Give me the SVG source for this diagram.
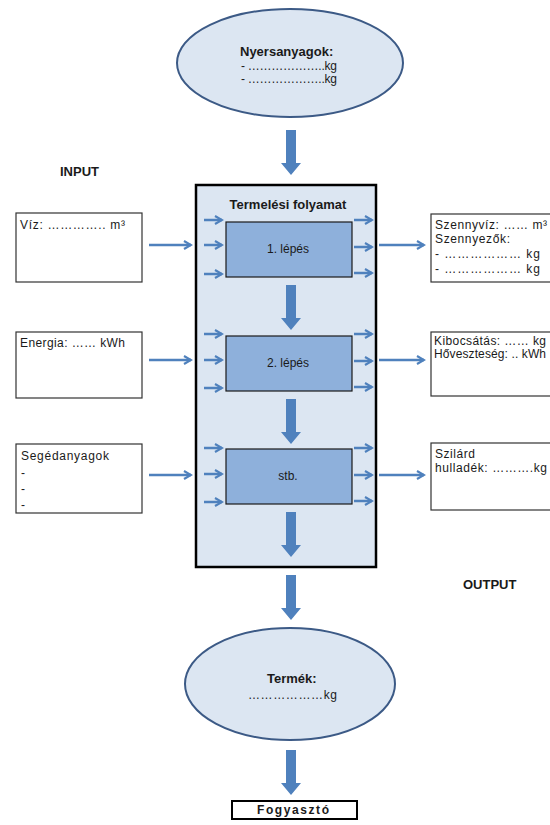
<svg xmlns="http://www.w3.org/2000/svg" width="550" height="825" viewBox="0 0 550 825">
  <defs>
    <style>
      text { font-family: "Liberation Sans", Arial, sans-serif; font-size: 12px; fill: #1a1a1a; }
      .b { font-weight: bold; font-size: 13px; }
      .c { text-anchor: middle; }
      .ell { fill: #dce6f2; stroke: #3c5a86; stroke-width: 2; }
      .box { fill: #ffffff; stroke: #333333; stroke-width: 1.2; }
      .step { fill: #8eb0db; stroke: #1a1a1a; stroke-width: 1.2; }
      .blk { fill: #4f81bd; }
      .ln { stroke: #4f81bd; stroke-width: 2.5; fill: none; marker-end: url(#head); }
    </style>
    <marker id="head" viewBox="0 0 10 10" refX="8" refY="5" markerWidth="4" markerHeight="4" orient="auto" markerUnits="strokeWidth">
      <path d="M1,1 L8,5 L1,9" fill="none" stroke="#4f81bd" stroke-width="2.2"/>
    </marker>
    <!-- block arrow pointing down, origin at top centre, 45 long -->
    <path id="down" d="M-5,0 H5 V33 H10 L0,45 L-10,33 H-5 Z"/>
  </defs>

  <!-- process frame -->
  <g id="process">
    <rect x="196" y="185" width="180" height="382" fill="#dce6f2" stroke="#000" stroke-width="2.5"/>
    <text class="b c" x="288" y="209">Termelési folyamat</text>
  </g>

  <g id="raw-materials">
    <ellipse class="ell" cx="290" cy="63" rx="113" ry="54"/>
    <text class="b" x="240" y="56">Nyersanyagok:</text>
    <text x="241" y="70" textLength="96" lengthAdjust="spacing">- ………………..kg</text>
    <text x="241" y="83" textLength="96" lengthAdjust="spacing">- ………………..kg</text>
  </g>

  <g id="step1">
    <rect class="step" x="226" y="222" width="126" height="55"/>
    <text class="c" x="288" y="253">1. lépés</text>
  </g>
  <g id="step2">
    <rect class="step" x="226" y="336" width="126" height="55"/>
    <text class="c" x="288" y="367">2. lépés</text>
  </g>
  <g id="step3">
    <rect class="step" x="226" y="449" width="126" height="55"/>
    <text class="c" x="288" y="480">stb.</text>
  </g>

  <g id="input-label"><text class="b" x="60" y="176">INPUT</text></g>
  <g id="output-label"><text class="b" x="463" y="589">OUTPUT</text></g>

  <g id="water">
    <rect class="box" x="16" y="213" width="126" height="69"/>
    <text x="20" y="229" textLength="105" lengthAdjust="spacing">Víz: ………….. m³</text>
  </g>
  <g id="energy">
    <rect class="box" x="16" y="332" width="126" height="66"/>
    <text x="20" y="347" textLength="105" lengthAdjust="spacing">Energia: …… kWh</text>
  </g>
  <g id="auxiliary">
    <rect class="box" x="16" y="444" width="126" height="69"/>
    <text x="21" y="460" textLength="88" lengthAdjust="spacing">Segédanyagok</text>
    <text x="21" y="477">-</text>
    <text x="21" y="493">-</text>
    <text x="21" y="509">-</text>
  </g>

  <g id="wastewater">
    <rect class="box" x="431" y="214" width="130" height="68"/>
    <text x="435" y="229" textLength="112" lengthAdjust="spacing">Szennyvíz: …… m³</text>
    <text x="435" y="243" textLength="75" lengthAdjust="spacing">Szennyezők:</text>
    <text x="435" y="258" textLength="105" lengthAdjust="spacing">- ……………… kg</text>
    <text x="435" y="273" textLength="105" lengthAdjust="spacing">- ……………… kg</text>
  </g>
  <g id="emission">
    <rect class="box" x="431" y="332" width="130" height="64"/>
    <text x="434" y="345" textLength="112" lengthAdjust="spacing">Kibocsátás: …… kg</text>
    <text x="434" y="358" textLength="112" lengthAdjust="spacing">Hőveszteség: .. kWh</text>
  </g>
  <g id="solid-waste">
    <rect class="box" x="431" y="443" width="130" height="67"/>
    <text x="435" y="458" textLength="40" lengthAdjust="spacing">Szilárd</text>
    <text x="435" y="472" textLength="112" lengthAdjust="spacing">hulladék: ……….kg</text>
  </g>

  <g id="product">
    <ellipse class="ell" cx="290" cy="684" rx="105" ry="56"/>
    <text class="b" x="267" y="683">Termék:</text>
    <text x="248" y="699" textLength="89" lengthAdjust="spacing">………………kg</text>
  </g>

  <g id="consumer">
    <rect x="232" y="801" width="125" height="18" fill="#fff" stroke="#000" stroke-width="2"/>
    <text class="b" x="257" y="814" style="font-size:12px" textLength="72" lengthAdjust="spacing">Fogyasztó</text>
  </g>

  <g id="connectors">
    <!-- vertical block arrows -->
    <use href="#down" class="blk" x="291" y="130"/>
    <use href="#down" class="blk" x="291" y="285"/>
    <use href="#down" class="blk" x="291" y="399"/>
    <use href="#down" class="blk" x="291" y="512"/>
    <use href="#down" class="blk" x="291" y="575"/>
    <use href="#down" class="blk" x="291" y="750"/>
    <!-- inputs into the frame -->
    <line class="ln" x1="149" y1="245" x2="191" y2="245"/>
    <line class="ln" x1="149" y1="360" x2="191" y2="360"/>
    <line class="ln" x1="149" y1="475" x2="191" y2="475"/>
    <!-- outputs from the frame -->
    <line class="ln" x1="379" y1="245" x2="424" y2="245"/>
    <line class="ln" x1="379" y1="360" x2="424" y2="360"/>
    <line class="ln" x1="379" y1="475" x2="424" y2="475"/>
    <!-- small arrows inside the frame, left -->
    <line class="ln" x1="204" y1="220" x2="222" y2="220"/>
    <line class="ln" x1="204" y1="245" x2="222" y2="245"/>
    <line class="ln" x1="204" y1="274" x2="222" y2="274"/>
    <line class="ln" x1="204" y1="334" x2="222" y2="334"/>
    <line class="ln" x1="204" y1="360" x2="222" y2="360"/>
    <line class="ln" x1="204" y1="388" x2="222" y2="388"/>
    <line class="ln" x1="204" y1="448" x2="222" y2="448"/>
    <line class="ln" x1="204" y1="474" x2="222" y2="474"/>
    <line class="ln" x1="204" y1="502" x2="222" y2="502"/>
    <!-- small arrows inside the frame, right -->
    <line class="ln" x1="354" y1="220" x2="372" y2="220"/>
    <line class="ln" x1="354" y1="247" x2="372" y2="247"/>
    <line class="ln" x1="354" y1="273" x2="372" y2="273"/>
    <line class="ln" x1="354" y1="334" x2="372" y2="334"/>
    <line class="ln" x1="354" y1="361" x2="372" y2="361"/>
    <line class="ln" x1="354" y1="387" x2="372" y2="387"/>
    <line class="ln" x1="354" y1="448" x2="372" y2="448"/>
    <line class="ln" x1="354" y1="475" x2="372" y2="475"/>
    <line class="ln" x1="354" y1="501" x2="372" y2="501"/>
  </g>
</svg>
